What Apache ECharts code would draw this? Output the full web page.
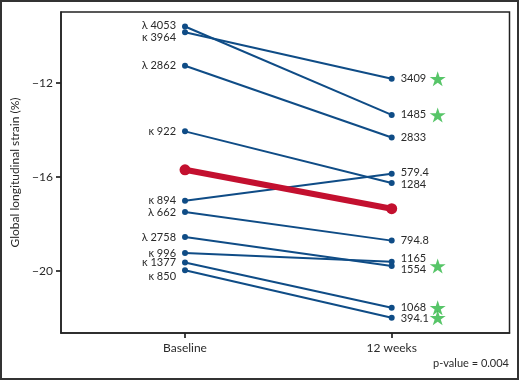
<!DOCTYPE html>
<html>
<head>
<meta charset="utf-8">
<script src="https://cdn.jsdelivr.net/npm/echarts@6/dist/echarts.min.js"></script>
<style>
html,body{margin:0;padding:0;background:#fff;}
#chart{width:520px;height:381px;}
</style>
</head>
<body>
<div id="chart"></div>
<script>
// ---- data ----
const categories = ['Baseline', '12 weeks'];
const baselineLabels = ['λ 4053', 'κ 3964', 'λ 2862', 'κ 922', 'κ 894', 'λ 662', 'λ 2758', 'κ 996', 'κ 1377', 'κ 850'];
const baselineValues = [-9.59, -9.83, -11.26, -14.06, -17.02, -17.50, -18.57, -19.25, -19.65, -19.98];
const week12Labels = ['1485', '3409', '2833', '1284', '579.4', '794.8', '1554', '1165', '1068', '394.1'];
const week12Values = [-13.36, -11.82, -14.32, -16.26, -15.87, -18.72, -19.80, -19.62, -21.58, -22.01];
const starred = [true, true, false, false, false, false, true, false, true, true];
const meanValues = [-15.70, -17.36];
const yTicks = [-20, -16, -12];
const xTicks = [0, 1];
const pValueText = 'p-value = 0.004';
const yAxisTitle = 'Global longitudinal strain (%)';

// label nudges (px) to avoid overlaps, as in the reference
const baselineLabelDy = [-1, 5, 0, 0, 0, 0, 0, 0, 0, 6];
const week12LabelDy = [0, 0, 0, 2, -1, 0, 4, -3, 0, 1];

const BLUE = '#0f4c86';
const RED = '#c3102f';
const GREEN = '#2db742';
const FONT = 'Lato';
const TXT = '#2a2a2a';
const AX = '#222222';

const series = [];
baselineValues.forEach((b, i) => {
  series.push({
    type: 'line',
    data: [
      { value: [0, b], label: { show: true, position: 'left', distance: 6, formatter: baselineLabels[i], offset: [0, baselineLabelDy[i]] } },
      { value: [1, week12Values[i]], label: { show: true, position: 'right', distance: 6, formatter: week12Labels[i], offset: [0, week12LabelDy[i]] } }
    ],
    symbol: 'circle',
    symbolSize: 6,
    showSymbol: true,
    itemStyle: { color: BLUE },
    lineStyle: { color: BLUE, width: 2 },
    label: { color: TXT, fontFamily: FONT, fontSize: 11 },
    z: 2,
    silent: true
  });
});

series.push({
  type: 'line',
  data: [[0, meanValues[0]], [1, meanValues[1]]],
  symbol: 'circle',
  symbolSize: 11,
  itemStyle: { color: RED },
  lineStyle: { color: RED, width: 6 },
  z: 3,
  silent: true
});

const STAR = 'path://M50,0 L61.2,34.5 L97.6,34.5 L68.2,55.9 L79.4,90.5 L50,69.1 L20.6,90.5 L31.8,55.9 L2.4,34.5 L38.8,34.5 Z';
series.push({
  type: 'scatter',
  data: week12Values.map((v, i) => starred[i] ? [1, v] : null).filter(d => d),
  symbol: STAR,
  symbolSize: [16, 15],
  symbolOffset: [46, 0],
  itemStyle: { color: GREEN },
  z: 4,
  silent: true
});

const chart = echarts.init(document.getElementById('chart'), null, { renderer: 'canvas' });
chart.setOption({
  animation: false,
  backgroundColor: '#fff',
  grid: {
    left: 61, top: 12, right: 10.5, bottom: 48,
    show: true, borderColor: AX, borderWidth: 1.5
  },
  xAxis: {
    type: 'value',
    min: -0.6, max: 1.57,
    splitLine: { show: false },
    axisLine: { show: true, onZero: false, lineStyle: { color: AX, width: 1.5 } },
    axisTick: { show: true, customValues: xTicks, length: 5, lineStyle: { color: AX, width: 1.7 } },
    axisLabel: {
      customValues: xTicks,
      formatter: v => categories[Math.round(v)],
      color: TXT, fontFamily: FONT, fontSize: 12, margin: 9
    }
  },
  yAxis: {
    type: 'value',
    min: -22.66, max: -8.97,
    name: yAxisTitle,
    nameLocation: 'middle',
    nameGap: 35,
    nameTextStyle: { color: TXT, fontFamily: FONT, fontSize: 12 },
    splitLine: { show: false },
    axisLine: { show: true, onZero: false, lineStyle: { color: AX, width: 1.5 } },
    axisTick: { show: true, customValues: yTicks, length: 5, lineStyle: { color: AX, width: 1.7 } },
    axisLabel: {
      customValues: yTicks,
      formatter: v => String(v).replace('-', '\u2212'),
      color: TXT, fontFamily: FONT, fontSize: 12, margin: 8
    }
  },
  graphic: [
    { type: 'rect', shape: { x: 1, y: 1, width: 517, height: 378 }, style: { fill: 'none', stroke: '#333', lineWidth: 2 }, silent: true },
    { type: 'text', right: 11, top: 358, style: { text: pValueText, fill: TXT, font: '11px Lato', textAlign: 'right' }, silent: true }
  ],
  series: series
});
</script>
</body>
</html>
